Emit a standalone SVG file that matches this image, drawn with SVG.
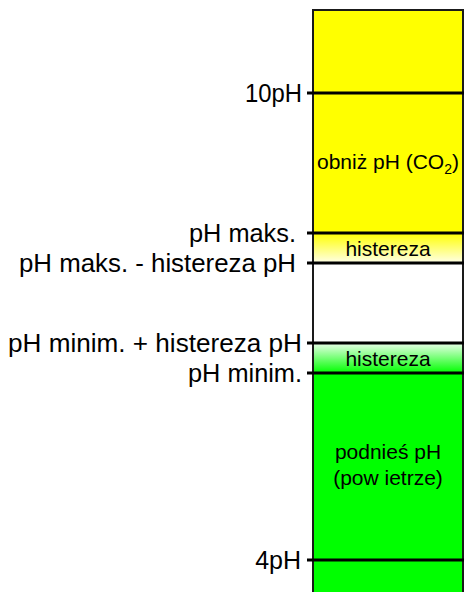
<svg xmlns="http://www.w3.org/2000/svg" width="465" height="592" viewBox="0 0 465 592">
  <style>
    .lbl { font-family: "Liberation Sans", Arial, sans-serif; font-size: 25px; fill: #000; text-anchor: end; }
    .zone { font-family: "Liberation Sans", Arial, sans-serif; font-size: 21px; fill: #000; text-anchor: middle; }
    .tick { stroke: #000; stroke-width: 3; fill: none; }
    .frame { fill: none; stroke: #1a1a1a; stroke-width: 2; }
  </style>
  <defs>
    <linearGradient id="fadeYellow" x1="0" y1="0" x2="0" y2="1">
      <stop offset="0" stop-color="#ffff00"/>
      <stop offset="1" stop-color="#ffffe8"/>
    </linearGradient>
    <linearGradient id="fadeGreen" x1="0" y1="0" x2="0" y2="1">
      <stop offset="0" stop-color="#eaffea"/>
      <stop offset="1" stop-color="#00ff00"/>
    </linearGradient>
  </defs>

  <rect width="465" height="592" fill="#fff"/>

  <!-- pH scale column -->
  <g id="zone-lower">
    <rect x="313" y="10" width="150" height="223" fill="#ffff00"/>
    <text class="zone" x="388" y="169">obniż pH (CO<tspan font-size="14" dy="5">2</tspan><tspan dy="-5">)</tspan></text>
  </g>
  <g id="zone-hyst-max">
    <rect x="313" y="233" width="150" height="30" fill="url(#fadeYellow)"/>
    <text class="zone" x="388" y="256">histereza</text>
  </g>
  <g id="zone-neutral">
    <rect x="313" y="263" width="150" height="80" fill="#fff"/>
  </g>
  <g id="zone-hyst-min">
    <rect x="313" y="343" width="150" height="30" fill="url(#fadeGreen)"/>
    <text class="zone" x="388" y="366">histereza</text>
  </g>
  <g id="zone-raise">
    <rect x="313" y="373" width="150" height="225" fill="#00ff00"/>
    <text class="zone" x="388" y="459">podnieś pH</text>
    <text class="zone" x="388" y="485">(pow ietrze)</text>
  </g>
  <rect class="frame" x="313" y="10" width="150" height="590"/>

  <!-- level ticks -->
  <g id="ticks">
    <line class="tick" x1="307" y1="93" x2="464" y2="93"/>
    <line class="tick" x1="307" y1="233" x2="464" y2="233"/>
    <line class="tick" x1="307" y1="263" x2="464" y2="263"/>
    <line class="tick" x1="307" y1="343" x2="464" y2="343"/>
    <line class="tick" x1="307" y1="373" x2="464" y2="373"/>
    <line class="tick" x1="307" y1="560" x2="464" y2="560"/>
  </g>

  <!-- level labels -->
  <g id="labels">
    <text class="lbl" x="302" y="101.5" textLength="57" lengthAdjust="spacingAndGlyphs">10pH</text>
    <text class="lbl" x="296" y="242" textLength="107" lengthAdjust="spacingAndGlyphs">pH maks.</text>
    <text class="lbl" x="296" y="272" textLength="277" lengthAdjust="spacingAndGlyphs">pH maks. - histereza pH</text>
    <text class="lbl" x="302" y="352" textLength="294" lengthAdjust="spacingAndGlyphs">pH minim. + histereza pH</text>
    <text class="lbl" x="302" y="382" textLength="114" lengthAdjust="spacingAndGlyphs">pH minim.</text>
    <text class="lbl" x="301" y="568.5">4pH</text>
  </g>
</svg>
